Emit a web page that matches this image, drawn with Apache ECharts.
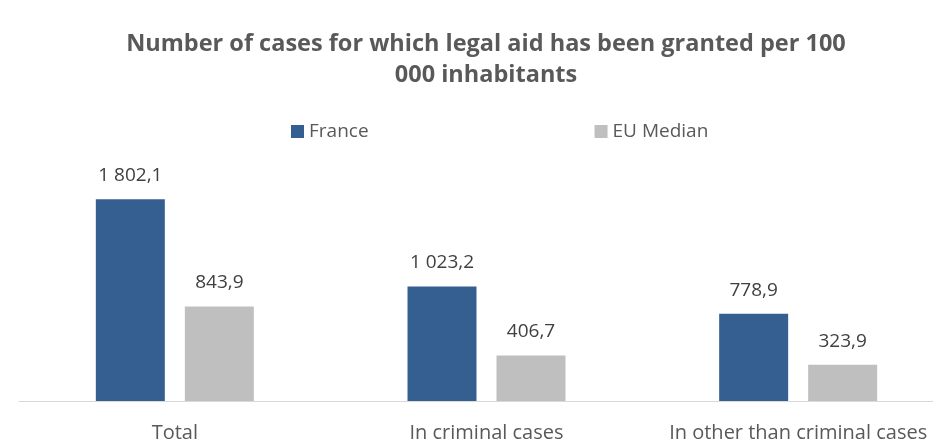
<!DOCTYPE html>
<html>
<head>
<meta charset="utf-8">
<script src="https://cdn.jsdelivr.net/npm/echarts@6/dist/echarts.min.js"></script>
<style>
  html, body { margin: 0; padding: 0; background: #fff; }
  #chart { width: 933px; height: 443px; }
</style>
</head>
<body>
<div id="chart"></div>
<script>
var categories = ["Total", "In criminal cases", "In other than criminal cases"];
var franceValues = [1802.1, 1023.2, 778.9];
var euMedianValues = [843.9, 406.7, 323.9];
var seriesNames = ["France", "EU Median"];

function fmt(v) {
  var parts = v.toFixed(1).split(".");
  var intPart = parts[0].replace(/\B(?=(\d{3})+(?!\d))/g, " ");
  return intPart + "," + parts[1];
}

var chart = echarts.init(document.getElementById("chart"));
var font = "'Open Sans', 'Noto Sans', sans-serif";

chart.setOption({
  animation: false,
  textStyle: { fontFamily: font },
  title: {
    text: "Number of cases for which legal aid has been granted per 100\n000 inhabitants",
    left: 481,
    top: 24,
    textAlign: "center",
    textStyle: {
      fontFamily: font,
      fontSize: 23.5,
      fontWeight: "bold",
      color: "#595959",
      lineHeight: 31
    }
  },
  legend: {
    data: seriesNames,
    top: 117,
    left: 286,
    itemWidth: 13,
    itemHeight: 13,
    itemGap: 226,
    icon: "rect",
    textStyle: { fontFamily: font, fontSize: 19, color: "#595959" }
  },
  grid: {
    left: 19,
    top: 177,
    width: 935,
    height: 224,
    outerBoundsMode: "none",
    containLabel: false
  },
  xAxis: {
    type: "category",
    data: categories,
    axisLine: { lineStyle: { color: "#d9d9d9", width: 1 } },
    axisTick: { show: false },
    axisLabel: {
      interval: 0,
      fontFamily: font,
      fontSize: 20,
      color: "#595959",
      margin: 22
    }
  },
  yAxis: {
    type: "value",
    min: 0,
    max: 2000,
    show: false,
    splitLine: { show: false }
  },
  series: [
    {
      name: seriesNames[0],
      type: "bar",
      data: franceValues,
      barWidth: 69,
      barGap: "29%",
      itemStyle: { color: "#365f91" },
      label: {
        show: true,
        position: "top",
        distance: 14,
        fontFamily: font,
        fontSize: 19,
        color: "#404040",
        formatter: function (p) { return fmt(p.value); }
      }
    },
    {
      name: seriesNames[1],
      type: "bar",
      data: euMedianValues,
      barWidth: 69,
      itemStyle: { color: "#bfbfbf" },
      label: {
        show: true,
        position: "top",
        distance: 14,
        fontFamily: font,
        fontSize: 19,
        color: "#404040",
        formatter: function (p) { return fmt(p.value); }
      }
    }
  ]
});
</script>
</body>
</html>
